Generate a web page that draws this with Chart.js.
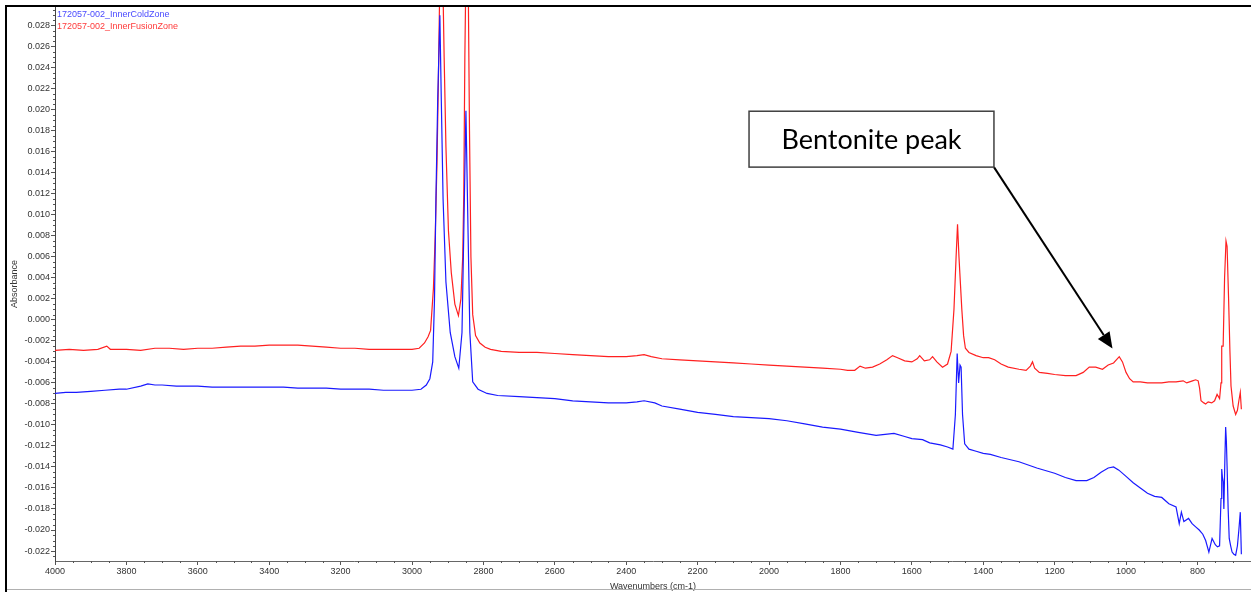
<!DOCTYPE html>
<html>
<head>
<meta charset="utf-8">
<script src="https://cdn.jsdelivr.net/npm/chart.js@4.4.1/dist/chart.umd.min.js"></script>
<style>
  html, body { margin: 0; padding: 0; background: #ffffff; }
  #wrap { position: relative; width: 1251px; height: 592px; }
  canvas { display: block; }
</style>
</head>
<body>
<div id="wrap"><canvas id="c" width="1251" height="592"></canvas></div>
<script>
// ---------------- data ----------------
const seriesNames = ["172057-002_InnerColdZone", "172057-002_InnerFusionZone"];

const xTickValues = [4000, 3800, 3600, 3400, 3200, 3000, 2800, 2600, 2400, 2200, 2000, 1800, 1600, 1400, 1200, 1000, 800];
const yTickValues = [-0.022, -0.020, -0.018, -0.016, -0.014, -0.012, -0.010, -0.008, -0.006, -0.004, -0.002, 0.000,
  0.002, 0.004, 0.006, 0.008, 0.010, 0.012, 0.014, 0.016, 0.018, 0.020, 0.022, 0.024, 0.026, 0.028];

// Red: InnerFusionZone
const fusionWavenumbers = [
  4000, 3960, 3920, 3880, 3855, 3845, 3800, 3760, 3720, 3680, 3640, 3600, 3560, 3520, 3480, 3440, 3400, 3360, 3320, 3280,
  3240, 3200, 3160, 3120, 3080, 3040, 3000, 2980, 2965, 2955, 2948, 2940, 2935, 2930, 2926, 2921, 2915, 2910, 2905, 2898,
  2890, 2880, 2870, 2863, 2858, 2855, 2852, 2848, 2843, 2839, 2835, 2830, 2822, 2810, 2795, 2780, 2750, 2700, 2650, 2600,
  2550, 2500, 2450, 2400, 2370, 2350, 2330, 2300, 2250, 2200, 2150, 2100, 2050, 2000, 1950, 1900, 1850, 1800, 1780, 1760,
  1745, 1730, 1710, 1690, 1670, 1654, 1640, 1620, 1600, 1585, 1578, 1565, 1550, 1542, 1530, 1514, 1500, 1490, 1482, 1476,
  1472, 1468, 1464, 1460, 1455, 1450, 1440, 1420, 1400, 1385, 1368, 1350, 1330, 1300, 1280, 1268, 1262, 1256, 1243, 1220,
  1200, 1170, 1140, 1120, 1103, 1085, 1066, 1050, 1035, 1019, 1010, 1000, 990, 980, 960, 940, 917, 900, 880, 860,
  840, 830, 814, 805, 798, 794, 790, 782, 777, 770, 760, 752, 745, 738, 734, 732, 728, 724, 720, 717,
  713, 709, 706, 700, 693, 688, 684, 680, 677
];
const fusionAbsorbance = [
  -0.0029, -0.0028, -0.0029, -0.0028, -0.0025, -0.0028, -0.0028, -0.0029, -0.0027, -0.0027, -0.0028, -0.0027, -0.0027, -0.0026, -0.0025, -0.0025, -0.0024, -0.0024, -0.0024, -0.0025,
  -0.0026, -0.0027, -0.0027, -0.0028, -0.0028, -0.0028, -0.0028, -0.0027, -0.0022, -0.0016, -0.0010, 0.0030, 0.0080, 0.0150, 0.0230, 0.0350, 0.0350, 0.0250, 0.0165, 0.0085,
  0.0045, 0.0015, 0.0004, 0.0020, 0.0060, 0.0120, 0.0250, 0.0360, 0.0340, 0.0180, 0.0060, 0.0005, -0.0015, -0.0022, -0.0026, -0.0028, -0.0030, -0.0031, -0.0031, -0.0032,
  -0.0033, -0.0034, -0.0035, -0.0035, -0.0034, -0.0033, -0.0035, -0.0037, -0.0038, -0.0039, -0.0040, -0.0041, -0.0042, -0.0043, -0.0044, -0.0045, -0.0046, -0.0047, -0.0048, -0.0048,
  -0.0044, -0.0046, -0.0045, -0.0042, -0.0038, -0.0034, -0.0036, -0.0039, -0.0040, -0.0037, -0.0034, -0.0039, -0.0038, -0.0035, -0.0040, -0.0045, -0.0042, -0.0030, 0.0010, 0.0060,
  0.0091, 0.0060, 0.0035, 0.0010, -0.0015, -0.0027, -0.0031, -0.0034, -0.0036, -0.0036, -0.0038, -0.0042, -0.0045, -0.0047, -0.0048, -0.0044, -0.0040, -0.0046, -0.0050, -0.0051,
  -0.0052, -0.0053, -0.0053, -0.0050, -0.0045, -0.0045, -0.0047, -0.0043, -0.0041, -0.0035, -0.0040, -0.0050, -0.0056, -0.0059, -0.0059, -0.0060, -0.0060, -0.0060, -0.0059, -0.0059,
  -0.0058, -0.0060, -0.0058, -0.0057, -0.0058, -0.0065, -0.0077, -0.0079, -0.0080, -0.0078, -0.0079, -0.0077, -0.0071, -0.0075, -0.0060, -0.0025, -0.0025, 0.0040, 0.0075, 0.0070,
  0.0023, -0.0030, -0.0063, -0.0082, -0.0090, -0.0086, -0.0077, -0.0069, -0.0085
];

// Blue: InnerColdZone
const coldWavenumbers = [
  4000, 3970, 3940, 3900, 3860, 3820, 3800, 3760, 3740, 3720, 3700, 3660, 3620, 3600, 3560, 3520, 3480, 3440, 3400, 3360,
  3320, 3280, 3240, 3200, 3160, 3120, 3080, 3040, 3000, 2975, 2960, 2950, 2942, 2937, 2933, 2928, 2922, 2918, 2913, 2905,
  2893, 2880, 2869, 2860, 2855, 2849, 2843, 2838, 2830, 2815, 2790, 2760, 2700, 2650, 2600, 2550, 2500, 2450, 2400, 2370,
  2350, 2320, 2300, 2250, 2200, 2150, 2100, 2050, 2000, 1950, 1900, 1850, 1800, 1750, 1700, 1650, 1620, 1600, 1570, 1550,
  1520, 1500, 1485, 1478, 1473, 1469, 1465, 1462, 1458, 1452, 1440, 1420, 1400, 1380, 1350, 1300, 1250, 1200, 1170, 1140,
  1110, 1090, 1070, 1050, 1035, 1020, 1000, 980, 960, 940, 920, 900, 880, 860, 851, 845, 838, 825, 815, 805,
  795, 785, 777, 768, 759, 750, 744, 738, 734, 732, 730, 728, 726, 723, 721, 719, 717, 714, 711, 707,
  703, 698, 693, 688, 684, 680, 677
];
const coldAbsorbance = [
  -0.0070, -0.0069, -0.0069, -0.0068, -0.0067, -0.0066, -0.0066, -0.0063, -0.0061, -0.0062, -0.0062, -0.0063, -0.0063, -0.0063, -0.0064, -0.0064, -0.0064, -0.0064, -0.0064, -0.0064,
  -0.0065, -0.0065, -0.0065, -0.0066, -0.0066, -0.0066, -0.0067, -0.0067, -0.0067, -0.0066, -0.0062, -0.0056, -0.0040, 0.0020, 0.0115, 0.0210, 0.0290, 0.0210, 0.0115, 0.0036,
  -0.0012, -0.0035, -0.0046, -0.0012, 0.0083, 0.0199, 0.0083, -0.0012, -0.0059, -0.0066, -0.0070, -0.0072, -0.0073, -0.0074, -0.0075, -0.0077, -0.0078, -0.0079, -0.0079, -0.0078,
  -0.0077, -0.0079, -0.0082, -0.0085, -0.0088, -0.0090, -0.0092, -0.0093, -0.0094, -0.0096, -0.0099, -0.0102, -0.0104, -0.0107, -0.0110, -0.0108, -0.0111, -0.0113, -0.0114, -0.0117,
  -0.0119, -0.0121, -0.0123, -0.0090, -0.0032, -0.0060, -0.0043, -0.0045, -0.0090, -0.0118, -0.0123, -0.0125, -0.0127, -0.0128, -0.0131, -0.0135, -0.0141, -0.0146, -0.0150, -0.0153,
  -0.0153, -0.0150, -0.0145, -0.0141, -0.0140, -0.0143, -0.0149, -0.0155, -0.0160, -0.0165, -0.0168, -0.0169, -0.0175, -0.0178, -0.0194, -0.0183, -0.0192, -0.0189, -0.0194, -0.0197,
  -0.0200, -0.0204, -0.0210, -0.0221, -0.0208, -0.0214, -0.0216, -0.0215, -0.0170, -0.0142, -0.0150, -0.0154, -0.0180, -0.0130, -0.0102, -0.0115, -0.0139, -0.0180, -0.0208, -0.0215,
  -0.0221, -0.0223, -0.0224, -0.0215, -0.0200, -0.0183, -0.0223
];

// annotation anchor points in data units
const noteText = "Bentonite peak";
const noteBoxWn = [2056, 1370];
const noteBoxAbs = [0.01986, 0.01454];
const noteArrowTipWn = 1038;
const noteArrowTipAbs = -0.00272;

// --------------- chart ----------------
const toPoints = (xs, ys) => xs.map((x, i) => ({ x: x, y: ys[i] }));

const minorTicksPlugin = {
  id: 'minorTicks',
  afterDraw(chart) {
    const ctx = chart.ctx;
    const xs = chart.scales.x, ys = chart.scales.y;
    const area = chart.chartArea;
    ctx.save();
    ctx.strokeStyle = '#555555';
    ctx.lineWidth = 1;
    ctx.beginPath();
    for (let w = 4000; w >= 650; w -= 50) {
      if (w % 200 === 0) continue;
      const px = Math.round(xs.getPixelForValue(w)) + 0.5;
      ctx.moveTo(px, area.bottom);
      ctx.lineTo(px, area.bottom + 2);
    }
    ctx.stroke();
    ctx.beginPath();
    for (let k = -46; k <= 59; k++) {
      const v = k * 0.0005;
      if (k % 4 === 0) continue;
      const py = Math.round(ys.getPixelForValue(v)) + 0.5;
      if (py < area.top || py > area.bottom) continue;
      ctx.moveTo(area.left - 2, py);
      ctx.lineTo(area.left, py);
    }
    ctx.stroke();
    ctx.restore();
  }
};

const framePlugin = {
  id: 'frame',
  afterDraw(chart) {
    const ctx = chart.ctx;
    ctx.save();
    ctx.fillStyle = '#000000';
    ctx.fillRect(5, 5, 1251 - 5, 2);
    ctx.fillRect(5, 5, 2, 592 - 5);
    ctx.fillStyle = '#b0b0b0';
    ctx.fillRect(7, 589, 1251 - 7, 1);
    ctx.restore();
  }
};

const legendTextPlugin = {
  id: 'legendText',
  afterDraw(chart) {
    const ctx = chart.ctx;
    const area = chart.chartArea;
    ctx.save();
    ctx.font = '9px "Liberation Sans", Arial, sans-serif';
    ctx.textBaseline = 'middle';
    ctx.textAlign = 'left';
    chart.data.datasets.forEach((ds, i) => {
      ctx.fillStyle = ds.legendColor;
      ctx.fillText(ds.label, area.left + 2, area.top + 7.5 + i * 11.7);
    });
    ctx.restore();
  }
};

const notePlugin = {
  id: 'note',
  afterDraw(chart) {
    const ctx = chart.ctx;
    const xs = chart.scales.x, ys = chart.scales.y;
    const x1 = xs.getPixelForValue(noteBoxWn[0]), x2 = xs.getPixelForValue(noteBoxWn[1]);
    const y1 = ys.getPixelForValue(noteBoxAbs[0]), y2 = ys.getPixelForValue(noteBoxAbs[1]);
    const tx = xs.getPixelForValue(noteArrowTipWn), ty = ys.getPixelForValue(noteArrowTipAbs);
    ctx.save();
    const ang = Math.atan2(ty - y2, tx - x2);
    const headLen = 16, headHalf = 7;
    const bx = tx - headLen * Math.cos(ang), by = ty - headLen * Math.sin(ang);
    ctx.strokeStyle = '#000000';
    ctx.lineWidth = 2;
    ctx.beginPath();
    ctx.moveTo(x2, y2);
    ctx.lineTo(bx, by);
    ctx.stroke();
    ctx.fillStyle = '#000000';
    ctx.beginPath();
    ctx.moveTo(tx, ty);
    ctx.lineTo(bx + headHalf * Math.sin(ang), by - headHalf * Math.cos(ang));
    ctx.lineTo(bx - headHalf * Math.sin(ang), by + headHalf * Math.cos(ang));
    ctx.closePath();
    ctx.fill();
    ctx.fillStyle = '#ffffff';
    ctx.fillRect(x1, y1, x2 - x1, y2 - y1);
    ctx.strokeStyle = '#404040';
    ctx.lineWidth = 1.5;
    ctx.strokeRect(x1, y1, x2 - x1, y2 - y1);
    ctx.fillStyle = '#000000';
    ctx.font = '27px Lato, "Open Sans", sans-serif';
    ctx.textAlign = 'center';
    ctx.textBaseline = 'middle';
    ctx.fillText(noteText, (x1 + x2) / 2, (y1 + y2) / 2 + 1);
    ctx.restore();
  }
};

const tickFont = { family: '"Liberation Sans", Arial, sans-serif', size: 9 };

new Chart(document.getElementById('c'), {
  type: 'scatter',
  data: {
    datasets: [
      {
        label: seriesNames[0],
        data: toPoints(coldWavenumbers, coldAbsorbance),
        borderColor: '#1a1aff',
        legendColor: '#4a4aff',
        showLine: true,
        borderWidth: 1.2,
        pointRadius: 0,
        tension: 0
      },
      {
        label: seriesNames[1],
        data: toPoints(fusionWavenumbers, fusionAbsorbance),
        borderColor: '#ff2020',
        legendColor: '#ff3a3a',
        showLine: true,
        borderWidth: 1.2,
        pointRadius: 0,
        tension: 0
      }
    ]
  },
  options: {
    responsive: false,
    animation: false,
    layout: { padding: { left: 0, right: 0, top: 7, bottom: 0 } },
    plugins: { legend: { display: false }, tooltip: { enabled: false } },
    scales: {
      x: {
        type: 'linear',
        reverse: true,
        min: 650,
        max: 4000,
        afterBuildTicks(scale) { scale.ticks = xTickValues.map(v => ({ value: v })); },
        afterFit(scale) { scale.height = 31; },
        grid: { display: true, drawOnChartArea: false, drawTicks: true, tickLength: 4, color: '#555555' },
        border: { display: true, color: '#666666', width: 1 },
        ticks: { font: tickFont, color: '#333333', padding: 1, maxRotation: 0, autoSkip: false,
          callback: v => String(v) },
        title: { display: true, text: 'Wavenumbers (cm-1)', font: tickFont, color: '#333333', padding: { top: 1, bottom: 0 } }
      },
      y: {
        type: 'linear',
        min: -0.02295,
        max: 0.02978,
        afterBuildTicks(scale) { scale.ticks = yTickValues.map(v => ({ value: v })); },
        afterFit(scale) { scale.width = 55; },
        grid: { display: true, drawOnChartArea: false, drawTicks: true, tickLength: 4, color: '#555555' },
        border: { display: true, color: '#444444', width: 1, dash: [1, 1] },
        ticks: { font: tickFont, color: '#333333', padding: 1, autoSkip: false,
          callback: v => v.toFixed(3) },
        title: { display: true, text: 'Absorbance', font: tickFont, color: '#333333', padding: { top: 9, bottom: 0 } }
      }
    }
  },
  plugins: [minorTicksPlugin, framePlugin, legendTextPlugin, notePlugin]
});
</script>
</body>
</html>
